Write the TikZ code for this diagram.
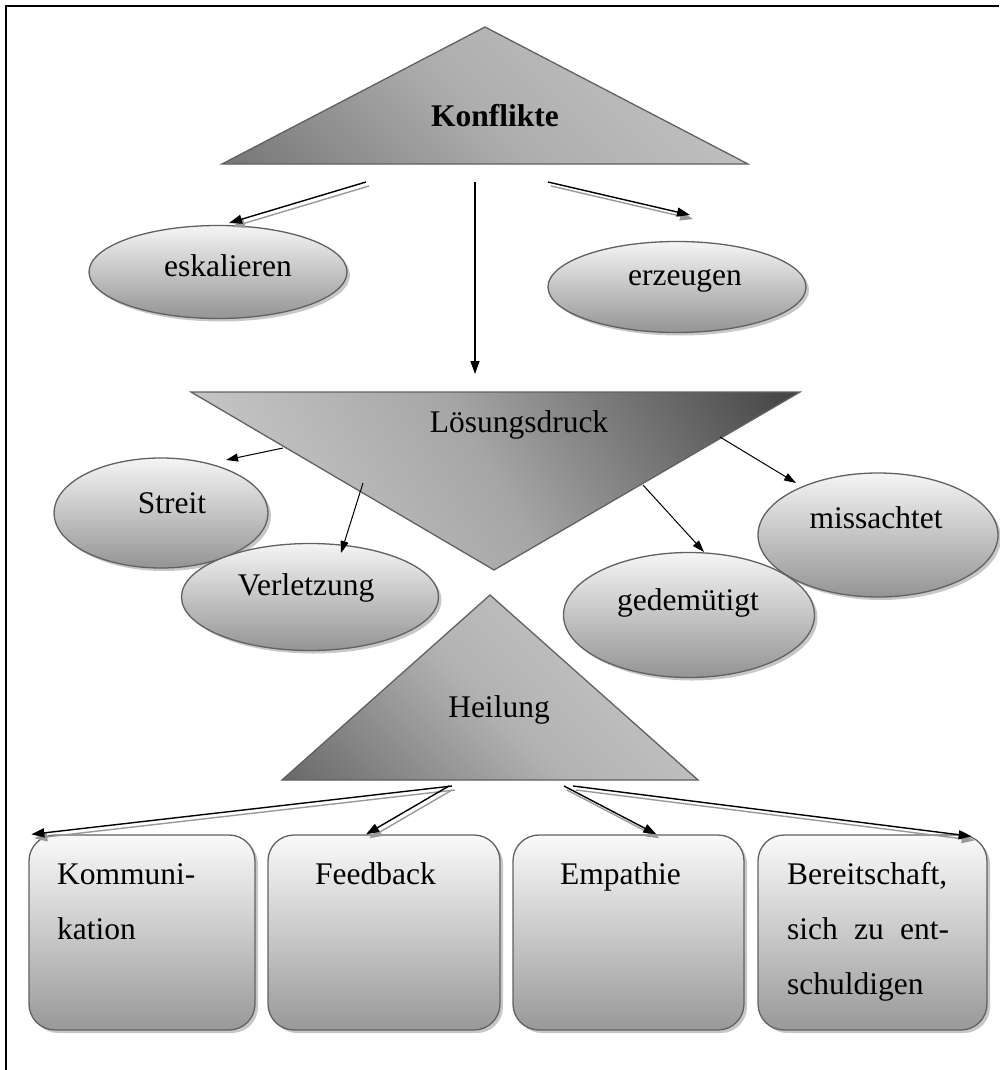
\documentclass[tikz,border=0pt]{standalone}
\usepackage{fontspec}
\setmainfont{Liberation Serif}
\usetikzlibrary{shapes.geometric,arrows.meta,shadows,calc}

\begin{document}
\begin{tikzpicture}[x=1pt,y=-1pt,
  txt/.style={font=\fontsize{31.5}{38}\selectfont, inner sep=0pt},
  edge/.style={draw=black!62, line width=1.3pt},
  shd/.style={drop shadow={shadow xshift=3pt,shadow yshift=-3pt,fill=black!22,opacity=1}},
  oval/.style={ellipse, edge, shd, top color=black!4, bottom color=black!42, inner sep=0pt},
  card/.style={rectangle, rounded corners=26pt, edge, shd, top color=black!2, bottom color=black!40,
               minimum width=#1, minimum height=195pt, inner sep=0pt},
  triback/.style={fill=black!22, shift={(3,3)}},
  link/.style={draw=black, line width=1.4pt, -{Triangle[length=13pt,width=9pt]}},
  ghost/.style={draw=black!40, line width=1.4pt, -{Triangle[length=13pt,width=9pt]},
                transform canvas={xshift=3pt,yshift=-4pt}},
  slim/.style={draw=black, line width=1pt, -{Triangle[length=12pt,width=8pt]}},
]
\useasboundingbox (0,0) rectangle (999,1070);

% frame
\draw[line width=1.2pt] (6,1070) -- (6,6) -- (999,6);

% triangle corners
\coordinate (kA) at (485,27);  \coordinate (kB) at (748,164); \coordinate (kC) at (222,164);
\coordinate (lA) at (191,392); \coordinate (lB) at (800,392); \coordinate (lC) at (494,570);
\coordinate (hA) at (490,595); \coordinate (hB) at (698,780); \coordinate (hC) at (282,780);

% Konflikte triangle
\fill[triback] (kA) -- (kB) -- (kC) -- cycle;
\begin{scope}
  \clip (kA) -- (kB) -- (kC) -- cycle;
  \shade[top color=black!20, bottom color=black!60, middle color=black!32, shading angle=-45]
    (205,-160) rectangle (765,400);
\end{scope}
\draw[edge] (kA) -- (kB) -- (kC) -- cycle;

% Lösungsdruck triangle
\fill[triback] (lA) -- (lB) -- (lC) -- cycle;
\begin{scope}
  \clip (lA) -- (lB) -- (lC) -- cycle;
  \shade[left color=black!18, right color=black!74, middle color=black!35, shading angle=120]
    (185,170) rectangle (805,790);
\end{scope}
\draw[edge] (lA) -- (lB) -- (lC) -- cycle;

% Heilung triangle
\fill[triback] (hA) -- (hB) -- (hC) -- cycle;
\begin{scope}
  \clip (hA) -- (hB) -- (hC) -- cycle;
  \shade[top color=black!20, bottom color=black!60, middle color=black!30, shading angle=-45]
    (280,490) rectangle (700,910);
\end{scope}
\draw[edge] (hA) -- (hB) -- (hC) -- cycle;

% ovals
\node[oval, minimum width=258pt, minimum height=93pt]  (esk) at (218,272) {};
\node[oval, minimum width=258pt, minimum height=91pt]  (erz) at (677,287) {};
\node[oval, minimum width=214pt, minimum height=110pt] (str) at (161,513) {};
\node[oval, minimum width=257pt, minimum height=107pt] (ver) at (310,597) {};
\node[oval, minimum width=240pt, minimum height=124pt] (mis) at (878,535) {};
\node[oval, minimum width=251pt, minimum height=125pt] (ged) at (689,615) {};

% rounded boxes
\node[card=226pt] (kom) at (142,932.5) {};
\node[card=232pt] (fee) at (384,932.5) {};
\node[card=231pt] (emp) at (628.5,932.5) {};
\node[card=229pt] (ber) at (872.5,932.5) {};

% arrow end points
\coordinate (k1) at (366,182);
\coordinate (k2) at (475,182);
\coordinate (k3) at (548,182);
\coordinate (eskIn) at (229,223);
\coordinate (losIn) at (475,374);
\coordinate (erzIn) at (690,215);
\coordinate (l1) at (283,448);
\coordinate (l2) at (363,483);
\coordinate (l3) at (643,485);
\coordinate (l4) at (720,437);
\coordinate (strIn) at (226,460);
\coordinate (verIn) at (341,553);
\coordinate (gedIn) at (704,552);
\coordinate (misIn) at (796,483);
\coordinate (h1) at (452,786);
\coordinate (h2) at (449,786);
\coordinate (h3) at (564,786);
\coordinate (h4) at (573,786);
\coordinate (komIn) at ($(kom.north west)+(3,0)$);
\coordinate (feeIn) at ($(fee.north)+(-18,0)$);
\coordinate (empIn) at ($(emp.north)+(28,0)$);
\coordinate (berIn) at ($(ber.north east)+(-16,2)$);

% arrows from Konflikte
\draw[ghost] (k1) -- (eskIn);
\draw[link]  (k1) -- (eskIn);
\draw[link]  (k2) -- (losIn);
\draw[ghost] (k3) -- (erzIn);
\draw[link]  (k3) -- (erzIn);

% arrows from Lösungsdruck
\draw[slim] (l1) -- (strIn);
\draw[slim] (l2) -- (verIn);
\draw[slim] (l3) -- (gedIn);
\draw[slim] (l4) -- (misIn);

% arrows from Heilung
\draw[ghost] (h1) -- (komIn);
\draw[ghost] (h2) -- (feeIn);
\draw[ghost] (h3) -- (empIn);
\draw[ghost] (h4) -- (berIn);
\draw[link] (h1) -- (komIn);
\draw[link] (h2) -- (feeIn);
\draw[link] (h3) -- (empIn);
\draw[link] (h4) -- (berIn);

% labels
\node[txt, anchor=base, font=\fontsize{31.5}{38}\selectfont\bfseries] (konf) at (495,126) {Konflikte};
\node[txt, anchor=base] (los) at (519,432) {Lösungsdruck};
\node[txt, anchor=base] (hei) at (499,717) {Heilung};
\node[txt, anchor=base] (eskT) at (228,276) {eskalieren};
\node[txt, anchor=base] (erzT) at (685,285) {erzeugen};
\node[txt, anchor=base] (strT) at (172,513) {Streit};
\node[txt, anchor=base] (verT) at (306,595) {Verletzung};
\node[txt, anchor=base] (gedT) at (688,610) {gedemütigt};
\node[txt, anchor=base] (misT) at (876,528) {missachtet};

\node[txt, anchor=base west] (komT1) at (57,884) {Kommuni-};
\node[txt, anchor=base west] (komT2) at (57,939) {kation};
\node[txt, anchor=base west] (feeT) at (315,884) {Feedback};
\node[txt, anchor=base west] (empT) at (560,884) {Empathie};
\node[txt, anchor=base west] (berT1) at (787,884) {Bereitschaft,};
\node[txt, anchor=base west] (berT2) at (787,939) {\makebox[162pt][s]{sich zu ent-}};
\node[txt, anchor=base west] (berT3) at (787,994) {schuldigen};
\end{tikzpicture}
\end{document}
